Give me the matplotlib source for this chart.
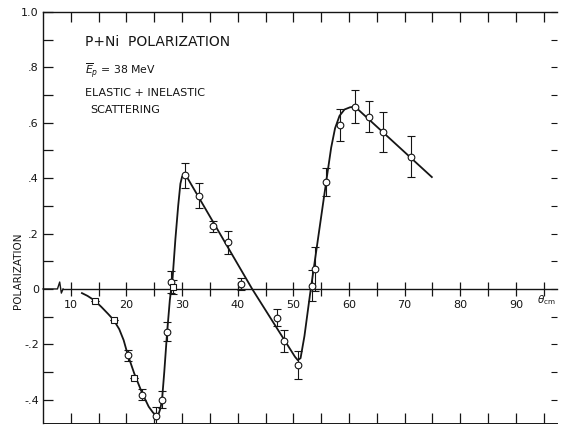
import matplotlib
matplotlib.use("Agg")
import matplotlib.pyplot as plt
import numpy as np

plt.rcParams['font.family'] = ['DejaVu Sans']
plt.rcParams['mathtext.fontset'] = 'dejavusans'

INK = '#151515'

# Measured polarization, open circles (angle in deg c.m., P, error)
circ_theta = [20.2, 22.8, 25.3, 26.4, 27.3, 28.0, 30.5, 33.0, 35.5, 38.2, 40.6,
              47.0, 48.4, 50.9, 53.3, 53.9, 55.9, 58.4, 61.1, 63.6, 66.2, 71.1]
circ_pol = [-0.240, -0.382, -0.457, -0.400, -0.154, 0.024, 0.410, 0.337, 0.226, 0.168, 0.018,
            -0.104, -0.187, -0.275, 0.012, 0.072, 0.385, 0.592, 0.658, 0.622, 0.568, 0.478]
circ_err = [0.020, 0.020, 0.030, 0.030, 0.035, 0.040, 0.045, 0.044, 0.020, 0.042, 0.022,
            0.030, 0.040, 0.050, 0.055, 0.080, 0.050, 0.059, 0.060, 0.056, 0.072, 0.075]

# Open squares
sq_theta = [14.3, 17.7, 21.4, 28.3]
sq_pol = [-0.042, -0.112, -0.322, 0.006]
sq_err = [0.0, 0.0, 0.0, 0.025]

# Hand-drawn guide curve
curve_theta = [12.0, 13.0, 14.3, 15.5, 16.7, 17.7, 18.7, 19.5, 20.2, 21.4, 22.8, 24.0,
               24.8, 25.3, 25.8, 26.1, 26.4, 26.8, 27.3, 27.8, 28.3, 28.8, 29.3, 29.7,
               30.0, 30.4, 30.7, 42.6, 50.3, 50.8, 51.3, 52.0, 53.0, 54.0, 55.0, 56.0,
               56.8, 57.5, 58.3, 59.2, 60.2, 61.1, 74.9]
curve_pol = [-0.015, -0.025, -0.042, -0.065, -0.090, -0.112, -0.145, -0.185, -0.235, -0.305,
             -0.375, -0.425, -0.447, -0.455, -0.450, -0.432, -0.400, -0.300, -0.160, -0.040,
             0.040, 0.180, 0.300, 0.380, 0.405, 0.415, 0.410, 0.0, -0.245, -0.257, -0.250,
             -0.170, -0.020, 0.120, 0.260, 0.400, 0.510, 0.580, 0.625, 0.648, 0.656, 0.658,
             0.404]

x_major = [10, 15, 20, 25, 30, 35, 40, 45, 50, 55, 60, 65, 70, 75, 80, 85, 90, 95]
x_labels = ['10', '', '20', '', '30', '', '40', '', '50', '', '60', '', '70', '', '80', '',
            '90', '']
y_major = [-0.4, -0.2, 0.0, 0.2, 0.4, 0.6, 0.8, 1.0]
y_labels = ['-.4', '-.2', '0', '.2', '.4', '.6', '.8', '1.0']
y_minor = [-0.3, -0.1, 0.1, 0.3, 0.5, 0.7, 0.9]

fig = plt.figure(figsize=(5.61, 4.26), dpi=100)
W, H = 561, 426
ax = fig.add_axes([43 / W, 3 / H, (557 - 43) / W, (423 - 12) / H])
ax.set_xlim(5, 97.4)
ax.set_ylim(-0.484, 1.0)

# frame: left and top lines, x axis drawn through P = 0
ax.spines['right'].set_visible(False)
ax.spines['top'].set_visible(False)
ax.spines['left'].set_color(INK)
ax.spines['left'].set_linewidth(1.0)
ax.spines['bottom'].set_position(('data', 0))
ax.spines['bottom'].set_bounds(8.6, 97.4)
ax.spines['bottom'].set_color(INK)
ax.spines['bottom'].set_linewidth(1.0)

ax.set_xticks(x_major)
ax.set_xticklabels(x_labels)
ax.tick_params(axis='x', direction='inout', length=10, width=0.9, color=INK,
               labelsize=8, labelcolor=INK, pad=3)
ax.set_yticks(y_major)
ax.set_yticklabels(y_labels)
ax.set_yticks(y_minor, minor=True)
ax.tick_params(axis='y', which='both', direction='in', length=7, width=0.9, color=INK,
               labelsize=8, labelcolor=INK, pad=3)

# axis break on the zero line
ax.plot([5, 7.6, 8.0, 8.3, 8.6], [0, 0, 0.025, -0.015, 0], color=INK, lw=1.0,
        clip_on=False)

# top and bottom frame with inward ticks
for loc in ('top', 'bottom'):
    sec = ax.secondary_xaxis(loc)
    sec.set_xticks(x_major)
    sec.set_xticklabels([])
    sec.tick_params(direction='in', length=7, width=0.9, color=INK)
    sec.spines[loc].set_color(INK)
    sec.spines[loc].set_linewidth(1.0 if loc == 'top' else 0.7)

secy = ax.secondary_yaxis('right')
secy.set_yticks(y_major + y_minor)
secy.set_yticklabels([])
secy.tick_params(direction='in', length=4, width=0.8, color=INK)
secy.spines['right'].set_visible(False)

# guide curve
ax.plot(curve_theta, curve_pol, color=INK, lw=1.3, zorder=3)

# error bars and markers
ax.errorbar(circ_theta, circ_pol, yerr=circ_err, fmt='none', ecolor=INK,
            elinewidth=0.8, capsize=3, capthick=0.8, zorder=4)
ax.errorbar(sq_theta, sq_pol, yerr=sq_err, fmt='none', ecolor=INK,
            elinewidth=0.8, capsize=3, capthick=0.8, zorder=4)
ax.plot(circ_theta, circ_pol, 'o', ms=4.8, mfc='white', mec=INK, mew=0.8,
        ls='none', zorder=5)
ax.plot(sq_theta, sq_pol, 's', ms=4.5, mfc='white', mec=INK, mew=0.8,
        ls='none', zorder=5)

# labels
ax.text(93.8, -0.04, r'$\theta_{\rm cm}$', fontsize=7.5, color=INK, va='center',
        ha='left')
ax.text(-0.048, 0.37, 'POLARIZATION', rotation=90, transform=ax.transAxes,
        ha='center', va='center', fontsize=7.5, color=INK)

ax.text(12.6, 0.89, 'P+Ni  POLARIZATION', fontsize=10, color=INK, va='center')
ax.text(12.6, 0.787, r'$\overline{E}_p$ = 38 MeV', fontsize=7.8, color=INK,
        va='center')
ax.text(12.6, 0.708, 'ELASTIC + INELASTIC', fontsize=8, color=INK, va='center')
ax.text(13.5, 0.646, 'SCATTERING', fontsize=8, color=INK, va='center')

fig.savefig('out.png', dpi=100)
